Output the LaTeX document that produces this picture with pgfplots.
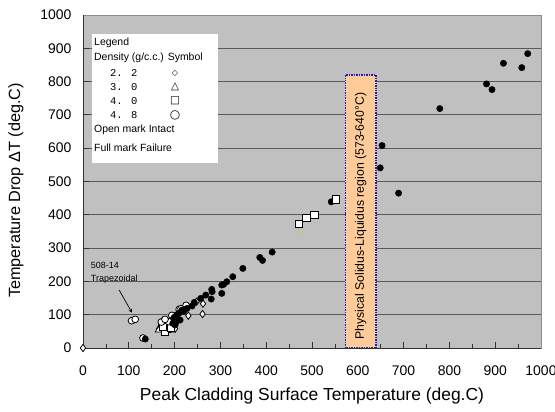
\documentclass[border=0pt]{standalone}
\usepackage{pgfplots}
\pgfplotsset{compat=1.18}
\usepackage{fontspec}
\setmainfont{Liberation Sans}
\newfontfamily\symfont{DejaVu Sans}
\newfontfamily\numfont{Liberation Mono}
\definecolor{bgray}{HTML}{C0C0C0}
\definecolor{regfill}{HTML}{FFCC99}
\definecolor{regline}{HTML}{1F1FB0}
\begin{document}
\begin{tikzpicture}
\useasboundingbox (-83bp,-64bp) rectangle (472bp,348bp);
\begin{axis}[
  scale only axis, width=458bp, height=333bp,
  xmin=0, xmax=1000, ymin=0, ymax=1000,
  xtick={0,100,...,1000}, ytick={0,100,...,1000},
  minor x tick num=1,
  xtick pos=bottom, ytick pos=left,
  tick align=inside,
  major tick length=6bp, minor tick length=4bp,
  tick style={black!80, line width=0.8pt},
  ymajorgrids,
  major grid style={draw=black!65, line width=0.9pt},
  axis background/.style={fill=bgray},
  axis line style={draw=black!45, line width=0.8pt},
  /pgf/number format/assume math mode=true,
  /pgf/number format/1000 sep={},
  ticklabel style={font=\fontsize{14}{14}\selectfont},
  xticklabel style={yshift=-14bp},
  yticklabel style={xshift=-8bp},
  xlabel={Peak Cladding Surface Temperature (deg.C)},
  ylabel={Temperature Drop ΔT (deg.C)},
  xlabel style={font=\fontsize{17.5}{17.5}\selectfont, yshift=-6bp},
  ylabel style={font=\fontsize{16.3}{16.3}\selectfont, yshift=10bp, xshift=-9bp},
  clip=false,
]
% region
\fill[regfill] (axis cs:573,0) rectangle (axis cs:640,820);
\draw[regline, densely dotted, line width=1.5pt] (axis cs:573,0) rectangle (axis cs:640,820);
\node[rotate=90, font=\fontsize{12.3}{12.3}\selectfont] at (axis cs:606.5,396) {Physical Solidus-Liquidus region (573-640°C)};
% legend box
\fill[white] (axis cs:20,943) rectangle (axis cs:295,556);
\begin{scope}[font=\fontsize{10.5}{10.5}\selectfont]
\node[anchor=west, inner sep=0] at (axis cs:24,916) {Legend};
\node[anchor=west, inner sep=0] at (axis cs:24,871) {Density (g/c.c.) Symbol};
\node[anchor=west, inner sep=0] at (axis cs:59,826) {\numfont 2. 2};
\node[anchor=west, inner sep=0] at (axis cs:59,784) {\numfont 3. 0};
\node[anchor=west, inner sep=0] at (axis cs:59,742) {\numfont 4. 0};
\node[anchor=west, inner sep=0] at (axis cs:59,700) {\numfont 4. 8};
\node[inner sep=0] at (axis cs:201,826) {\symfont\fontsize{8}{8}\selectfont ◇};
\node[inner sep=0] at (axis cs:201,784) {\symfont △};
\node[inner sep=0] at (axis cs:201,742) {\symfont □};
\node[inner sep=0] at (axis cs:201,700) {\symfont\fontsize{12}{12}\selectfont ○};
\node[anchor=west, inner sep=0] at (axis cs:24,655) {Open mark Intact};
\node[anchor=west, inner sep=0] at (axis cs:24,601) {Full mark Failure};
\end{scope}
% annotation
\node[anchor=west, inner sep=0, font=\fontsize{9}{9}\selectfont] at (axis cs:17,249) {508-14};
\node[anchor=west, inner sep=0, font=\fontsize{9}{9}\selectfont] at (axis cs:17,207) {Trapezoidal};
\draw[-stealth, black, line width=0.7pt] (axis cs:79,174) -- (axis cs:107,106);
% open diamonds (2.2, intact)
\addplot[only marks, mark=diamond*, mark size=3.6bp, mark options={fill=white, draw=black, line width=0.8pt}]
 coordinates {(0,0) (248,139) (262,133) (261,102) (230,97) (201,58) (172,60) (195,80)};
% open triangles (3.0, intact)
\addplot[only marks, mark=triangle*, mark size=3.8bp, mark options={fill=white, draw=black, line width=0.8pt}]
 coordinates {(168,64) (165,54) (194,54) (185,52)};
% open squares (4.0, intact)
\addplot[only marks, mark=square*, mark size=3.6bp, mark options={fill=white, draw=black, line width=0.8pt}]
 coordinates {(179,49) (175,64) (192,62)};
% open circles (4.8, intact)
\addplot[only marks, mark=*, mark size=3.4bp, mark options={fill=white, draw=black, line width=0.8pt}]
 coordinates {(106,82) (114,86) (131,30) (225,128) (210,116) (194,98) (176,82) (171,78) (187,79) (179,86) (214,118)};
% failures
\addplot[only marks, mark=*, mark size=3.2bp, mark options={fill=black, draw=black}]
 coordinates {(971,884) (918,855) (958,842) (881,793) (893,776) (779,719)
 (653,608) (649,541) (689,465) (542,439) (413,288) (386,272) (392,263)
 (349,239) (327,214) (314,199) (307,191) (303,189) (303,164) (281,176)
 (282,169) (268,159) (280,147) (257,149) (243,137) (238,126) (227,119)
 (216,114) (209,104) (201,94) (198,90) (212,84) (204,79) (201,69)
 (196,74) (205,100) (220,110) (136,27)};
% intact squares upper
\addplot[only marks, mark=square*, mark size=3.8bp, mark options={fill=white, draw=black, line width=0.8pt}]
 coordinates {(471,373) (488,391) (505,400) (552,447)};
\addplot[only marks, mark=x, mark size=3bp, mark options={draw=yellow!60!gray}]
 coordinates {(473,352)};
\draw[black!80, line width=0.9pt] (rel axis cs:0,1) -- (rel axis cs:0,0) -- (rel axis cs:1,0);
\end{axis}
\end{tikzpicture}
\end{document}
